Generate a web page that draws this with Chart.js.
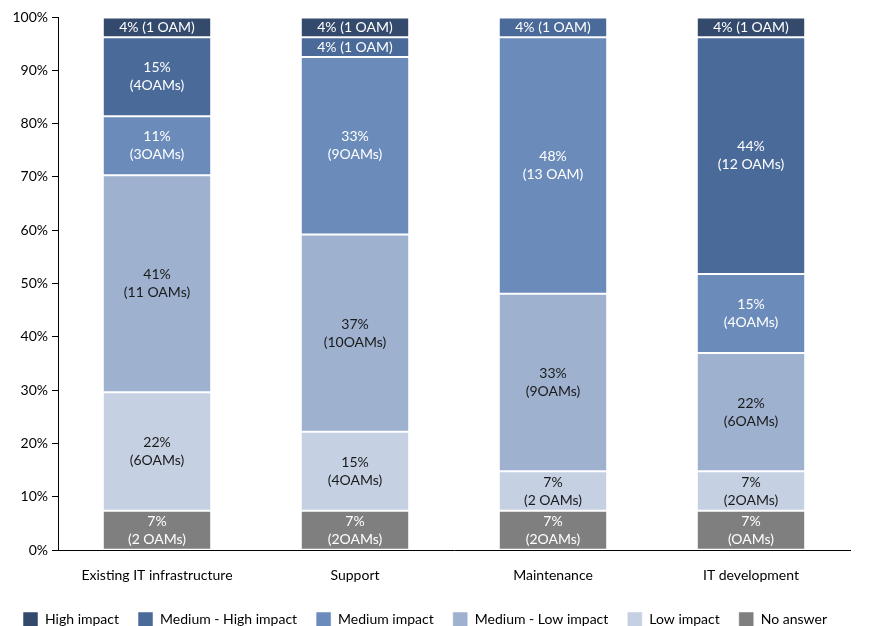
<!DOCTYPE html>
<html>
<head>
<meta charset="utf-8">
<script src="https://cdn.jsdelivr.net/npm/chart.js@4"></script>
<style>
  html, body { margin: 0; padding: 0; background: #fff; }
  #wrap { width: 877px; height: 626px; position: relative; }
</style>
</head>
<body>
<div id="wrap"><canvas id="c"></canvas></div>
<script>
// categories (x axis)
const categories = ['Existing IT infrastructure', 'Support', 'Maintenance', 'IT development'];

// percentage of OAMs per impact level, bottom to top
const noAnswer   = [7.4, 7.4, 7.4, 7.4];
const lowImpact  = [22.2, 14.8, 7.4, 7.4];
const medLow     = [40.7, 37.0, 33.3, 22.2];
const medium     = [11.1, 33.3, 48.1, 14.8];
const medHigh    = [14.8, 3.7, 3.7, 44.4];
const highImpact = [3.7, 3.7, 0, 3.7];

// segment labels as printed on the chart
const noAnswerLabels   = [['7%', '(2 OAMs)'], ['7%', '(2OAMs)'], ['7%', '(2OAMs)'], ['7%', '(OAMs)']];
const lowLabels        = [['22%', '(6OAMs)'], ['15%', '(4OAMs)'], ['7%', '(2 OAMs)'], ['7%', '(2OAMs)']];
const medLowLabels     = [['41%', '(11 OAMs)'], ['37%', '(10OAMs)'], ['33%', '(9OAMs)'], ['22%', '(6OAMs)']];
const mediumLabels     = [['11%', '(3OAMs)'], ['33%', '(9OAMs)'], ['48%', '(13 OAM)'], ['15%', '(4OAMs)']];
const medHighLabels    = [['15%', '(4OAMs)'], ['4% (1 OAM)'], ['4% (1 OAM)'], ['44%', '(12 OAMs)']];
const highLabels       = [['4% (1 OAM)'], ['4% (1 OAM)'], null, ['4% (1 OAM)']];

const yTicks = [0, 10, 20, 30, 40, 50, 60, 70, 80, 90, 100];

const FONT = 'Lato, "Open Sans", sans-serif';

function ds(label, data, color, labels, textColor) {
  return {
    label, data, labels, textColor,
    backgroundColor: color,
    borderColor: '#ffffff',
    borderWidth: { top: 1, bottom: 1, left: 0, right: 0 },
    borderSkipped: false,
    barPercentage: 0.54,
    categoryPercentage: 1.0,
  };
}

// draws the text inside each stacked segment
const segmentLabels = {
  id: 'segmentLabels',
  afterDatasetsDraw(chart) {
    const ctx = chart.ctx;
    ctx.save();
    ctx.font = '14px ' + FONT;
    ctx.textAlign = 'center';
    ctx.textBaseline = 'middle';
    chart.data.datasets.forEach((d, di) => {
      const meta = chart.getDatasetMeta(di);
      meta.data.forEach((bar, i) => {
        const lines = d.labels[i];
        if (!lines || !d.data[i]) return;
        const cy = (bar.y + bar.base) / 2;
        const lh = 18;
        ctx.fillStyle = d.textColor;
        lines.forEach((t, k) => {
          ctx.fillText(t, bar.x, cy + (k - (lines.length - 1) / 2) * lh);
        });
      });
    });
    ctx.restore();
  }
};

new Chart(document.getElementById('c'), {
  type: 'bar',
  data: {
    labels: categories,
    datasets: [
      ds('No answer', noAnswer, '#7f7f7f', noAnswerLabels, '#ffffff'),
      ds('Low impact', lowImpact, '#c5d0e2', lowLabels, '#1a1a1a'),
      ds('Medium - Low impact', medLow, '#9eb1cf', medLowLabels, '#1a1a1a'),
      ds('Medium impact', medium, '#6b8cba', mediumLabels, '#ffffff'),
      ds('Medium - High impact', medHigh, '#4a6a99', medHighLabels, '#ffffff'),
      ds('High impact', highImpact, '#344a6c', highLabels, '#ffffff'),
    ]
  },
  options: {
    responsive: true,
    maintainAspectRatio: false,
    animation: false,
    layout: { padding: { top: 17, right: 27, left: 0, bottom: -11 } },
    plugins: {
      legend: {
        position: 'bottom',
        reverse: true,
        labels: {
          boxWidth: 15,
          boxHeight: 15,
          padding: 19,
          color: '#000',
          font: { family: FONT, size: 14 }
        }
      },
      tooltip: { enabled: false }
    },
    scales: {
      x: {
        stacked: true,
        grid: { display: false },
        border: { display: true, color: '#000', width: 1 },
        ticks: { color: '#000', font: { family: FONT, size: 14 }, padding: 9, maxRotation: 0 }
      },
      y: {
        stacked: true,
        min: 0,
        max: 100,
        afterBuildTicks: (axis) => { axis.ticks = yTicks.map(v => ({ value: v })); },
        afterFit: (axis) => { axis.width = 58; },
        grid: { display: true, drawOnChartArea: false, drawTicks: true, tickLength: 6, color: '#000' },
        border: { display: true, color: '#000', width: 1 },
        ticks: {
          color: '#000',
          font: { family: FONT, size: 14 },
          padding: 4,
          callback: (v) => v + '%'
        }
      }
    }
  },
  plugins: [segmentLabels]
});
</script>
</body>
</html>
